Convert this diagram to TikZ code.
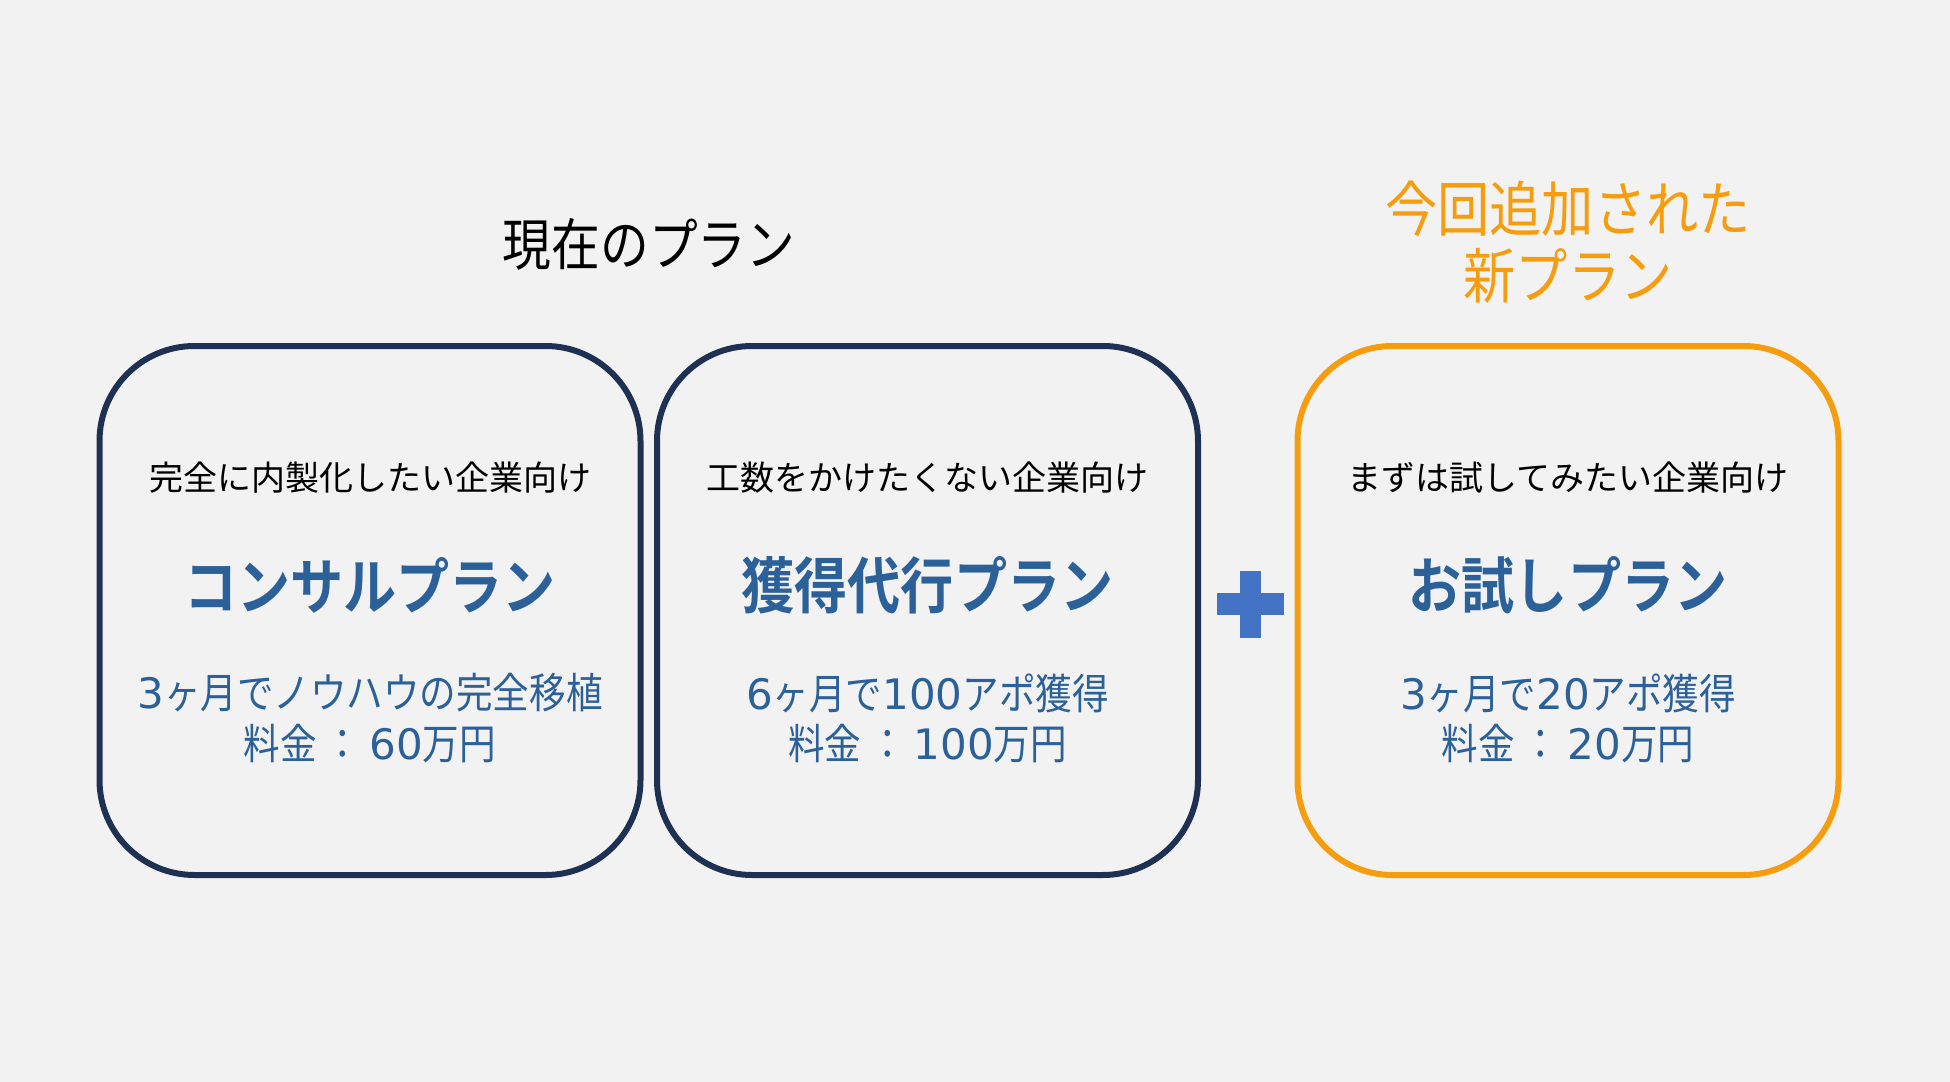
\documentclass[tikz,border=0pt]{standalone}
\usepackage{fontspec}
\newfontfamily\jpn{Noto Sans CJK JP}
\newfontfamily\jpnn[FakeStretch=0.87]{Noto Sans CJK JP}
\newfontfamily\jpnb[FakeStretch=0.87,BoldFont={Noto Sans CJK JP Bold}]{Noto Sans CJK JP}
\newfontfamily\dgfont{DejaVu Sans}
\newcommand{\dg}[1]{{\dgfont #1}}
\newcommand{\clx}{\hspace{4pt}：\hspace{4pt}}
\definecolor{bg}{HTML}{F2F2F2}
\definecolor{navy}{HTML}{1F3152}
\definecolor{txtblue}{HTML}{2B6198}
\definecolor{plusblue}{HTML}{4472C4}
\definecolor{orng}{HTML}{F59D0E}
\tikzset{
  planbox/.style={draw=navy, line width=3pt, rounded corners=47.5pt, minimum width=270.5pt, minimum height=264.5pt, inner sep=0pt},
  newbox/.style={planbox, draw=orng},
  subtxt/.style={inner sep=0pt, font=\jpn\fontsize{17pt}{20pt}\selectfont, text=black},
  plantxt/.style={inner sep=0pt, font=\jpnb\bfseries\fontsize{30.5pt}{34pt}\selectfont, text=txtblue},
  infotxt/.style={inner sep=0pt, font=\jpnn\fontsize{21pt}{24pt}\selectfont, text=txtblue},
  headtxt/.style={inner sep=0pt, font=\jpnn\fontsize{28pt}{32pt}\selectfont, text=black},
  newhead/.style={inner sep=0pt, font=\jpnn\fontsize{30pt}{34pt}\selectfont, text=orng},
}
\begin{document}
\begin{tikzpicture}[x=0.5pt, y=-0.5pt]
\fill[bg] (0,0) rectangle (1950,1082);
\useasboundingbox (0,0) rectangle (1950,1082);

% headings
\node[headtxt] (cur) at (649,244) {現在のプラン};
\node[newhead] (new1) at (1568,209) {今回追加された};
\node[newhead] (new2) at (1568,276) {新プラン};

% boxes
\node[planbox] (box1) at (370,610.5) {};
\node[planbox] (box2) at (927.5,610.5) {};
\node[newbox] (box3) at (1568,610.5) {};

% box 1
\node[subtxt] (s1) at (370,478) {完全に内製化したい企業向け};
\node[plantxt] (p1) at (370,585) {コンサルプラン};
\node[infotxt] (i1a) at (370,693) {\dg{3}ヶ月でノウハウの完全移植};
\node[infotxt] (i1b) at (370,744) {料金\clx\dg{60}万円};

% box 2
\node[subtxt] (s2) at (927.5,478) {工数をかけたくない企業向け};
\node[plantxt] (p2) at (927.5,585) {獲得代行プラン};
\node[infotxt] (i2a) at (927.5,693) {\dg{6}ヶ月で\dg{100}アポ獲得};
\node[infotxt] (i2b) at (927.5,744) {料金\clx\dg{100}万円};

% box 3
\node[subtxt] (s3) at (1568,478) {まずは試してみたい企業向け};
\node[plantxt] (p3) at (1568,585) {お試しプラン};
\node[infotxt] (i3a) at (1568,693) {\dg{3}ヶ月で\dg{20}アポ獲得};
\node[infotxt] (i3b) at (1568,744) {料金\clx\dg{20}万円};

% plus
\fill[plusblue] (1240,571) rectangle (1261,638);
\fill[plusblue] (1217,593) rectangle (1284,615);
\end{tikzpicture}
\end{document}
